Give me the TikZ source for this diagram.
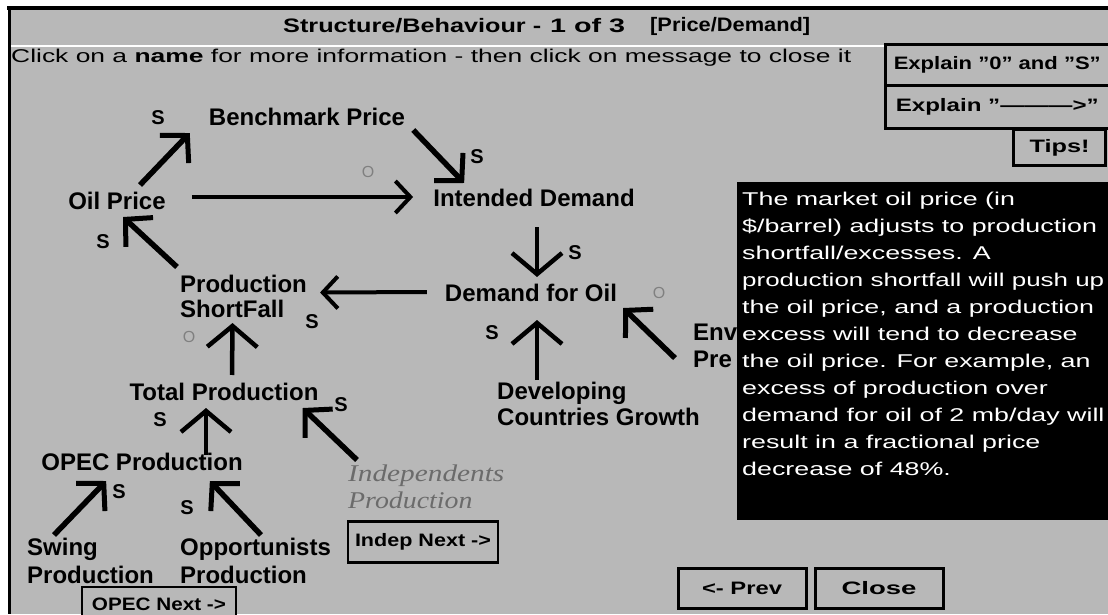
\documentclass[tikz,border=0pt]{standalone}
\usepackage{fontspec}
\usepackage{graphicx}
\setmainfont{Liberation Sans}
\newfontfamily\serifit{Liberation Serif}
\usetikzlibrary{arrows.meta,calc}
\definecolor{bg}{gray}{0.72}
\definecolor{faint}{gray}{0.50}
\definecolor{disabled}{gray}{0.42}
\newcommand{\fitw}[2]{\resizebox{#1}{\height}{#2}}
\begin{document}
\begin{tikzpicture}[x=1pt,y=-1pt,
  lbl/.style={font=\bfseries\fontsize{24}{25}\selectfont, inner sep=0pt, align=left},
  slbl/.style={font=\bfseries\fontsize{20}{22}\selectfont, inner sep=0pt},
  olbl/.style={font=\fontsize{16}{18}\selectfont, text=faint, inner sep=0pt},
  dis/.style={font=\serifit\itshape\fontsize{24}{27}\selectfont, text=disabled, inner sep=0pt, align=left},
  diag/.style={line width=5.5pt, -{Straight Barb[length=19pt,width=40pt,line width=5pt]}},
  vert/.style={line width=4.5pt, -{Straight Barb[length=21pt,width=50pt,line width=4.5pt]}},
  horiz/.style={line width=4pt, -{Straight Barb[length=15pt,width=32pt,line width=4pt]}},
  btn/.style={draw=black, line width=2.5pt, fill=bg, inner sep=0pt, font=\bfseries\fontsize{18}{20}\selectfont},
  btntext/.style={inner sep=0pt, font=\bfseries\fontsize{18}{20}\selectfont},
  ttl/.style={font=\bfseries\fontsize{19.5}{21}\selectfont, inner sep=0pt, anchor=west},
  msg/.style={font=\fontsize{18.5}{27}\selectfont, text=white, inner sep=0pt, align=left},
]
\useasboundingbox (0,0) rectangle (1108,614);
\fill[white] (0,0) rectangle (1108,614);
\fill[bg] (9,6) rectangle (1108,614);
% window frame
\draw[line width=4pt] (7,8) -- (1108,8);
\draw[line width=3pt] (9,6) -- (9,614);
\draw[white, line width=1.5pt] (11,46) -- (884,46);

% title and instruction
\node[ttl] (title) at (283,26) {\fitw{258pt}{Structure/Behaviour -}};
\node[ttl] (title2) at (550,26) {\fitw{75pt}{1 of 3}};
\node[ttl] (title3) at (650,26) {\fitw{160pt}{[Price/Demand]}};
\node[font=\fontsize{18.5}{20}\selectfont, inner sep=0pt, anchor=west] (instr) at (11,58) {\fitw{840pt}{Click on a \textbf{name} for more information - then click on message to close it}};

% top-right buttons
\node[btn, anchor=north west, minimum width=224pt, minimum height=41pt] (expl1) at (884,43) {\fitw{207pt}{Explain "0" and "S"}};
\node[btn, anchor=north west, minimum width=224pt, minimum height=43pt] (expl2) at (884,84) {\fitw{203pt}{Explain "--------->"}};
\node[btn, line width=3pt, anchor=north west, minimum width=92pt, minimum height=36pt] (tips) at (1012,128) {\fitw{60pt}{Tips!}};

% diagram labels
\node[lbl] (bench) at (307,117) {Benchmark Price};
\node[lbl] (oil) at (117,201) {Oil Price};
\node[lbl] (intended) at (534,198) {Intended Demand};
\node[lbl, anchor=north west] (psf) at (180,275) {Production\\ShortFall};
\node[lbl] (demand) at (531,293) {Demand for Oil};
\node[lbl, anchor=north west] (dev) at (497,382) {Developing\\[1pt]Countries Growth};
\node[lbl, anchor=north west] (env) at (693,324) {Env\\[2pt]Pre};
\node[lbl] (total) at (224,392) {Total Production};
\node[lbl] (opec) at (142,462) {OPEC Production};
\node[dis, anchor=north west] (indep) at (348,465) {\scalebox{1.22}[1]{Independents}\\\scalebox{1.16}[1]{Production}};
\node[lbl, anchor=north west] (swing) at (27,538) {Swing\\[3pt]Production};
\node[lbl, anchor=north west] (opport) at (180,538) {Opportunists\\[3pt]Production};

% polarity marks
\node[slbl] (s1) at (158,118) {S};
\node[slbl] (s2) at (477,157) {S};
\node[slbl] (s3) at (103,242) {S};
\node[slbl] (s4) at (575,253) {S};
\node[slbl] (s5) at (312,322) {S};
\node[slbl] (s6) at (492,333) {S};
\node[slbl] (s7) at (160,420) {S};
\node[slbl] (s8) at (341,405) {S};
\node[slbl] (s9) at (119,492) {S};
\node[slbl] (s10) at (187,508) {S};
\node[olbl] (o1) at (368,172) {O};
\node[olbl] (o2) at (189,337) {O};
\node[olbl] (o3) at (659,293) {O};

% connectors
\draw[diag] ($(oil.north)+(23,-7)$) -- ($(bench.south west)+(-19,7)$);
\draw[diag] ($(bench.south east)+(8,4)$) -- ($(intended.north west)+(31,-6)$);
\draw[horiz] ($(oil.east)+(26,-4)$) -- ($(intended.west)+(-20,-1)$);
\draw[vert] ($(intended.south)+(3,20)$) -- ($(demand.north)+(6,-7)$);
\draw[horiz] ($(demand.west)+(-18,-1)$) -- ($(psf.east)+(13,-4)$);
\draw[diag] ($(psf.north west)+(-3,-8)$) -- ($(oil.south)+(6,7)$);
\draw[vert] ($(dev.north west)+(40,-2)$) -- ($(demand.south)+(6,18)$);
\draw[diag] ($(env.west)+(-18,12)$) -- ($(demand.east)+(6,15)$);
\draw[vert] ($(total.north)+(8,-8)$) -- ($(psf.south)+(-11,5)$);
\draw[vert] ($(opec.north)+(64,2)$) -- ($(total.south)+(-18,7)$);
\draw[diag] ($(indep.north west)+(9,-5)$) -- ($(total.south east)+(-16,7)$);
\draw[diag] ($(swing.north west)+(27,-3)$) -- ($(opec.south west)+(65,10)$);
\draw[diag] ($(opport.north west)+(81,-3)$) -- ($(opec.south east)+(-33,10)$);

% bottom buttons
\node[btn] (indepnext) at (423,542) [minimum width=150pt, minimum height=41pt] {\fitw{136pt}{Indep Next ->}};
\draw[line width=2.5pt, fill=bg] (82,587) rectangle (236,630);
\node[btntext] (opecnext) at (159,604) {\fitw{134pt}{OPEC Next ->}};
\node[btn, line width=3pt] (prev) at (742,588) [minimum width=128pt, minimum height=40pt] {\fitw{80pt}{<- Prev}};
\node[btn, line width=3pt] (close) at (879,588) [minimum width=128pt, minimum height=40pt] {\fitw{75pt}{Close}};

% message box
\fill[black] (737,182) rectangle (1108,520);
\node[msg, anchor=north west] (message) at (742,191.5) {%
\scalebox{1.45}[1]{The market oil price (in}\\
\scalebox{1.45}[1]{\$/barrel) adjusts to production}\\
\scalebox{1.45}[1]{shortfall/excesses. A}\\
\fitw{362pt}{production shortfall will push up}\\
\scalebox{1.45}[1]{the oil price, and a production}\\
\scalebox{1.45}[1]{excess will tend to decrease}\\
\scalebox{1.45}[1]{the oil price. For example, an}\\
\scalebox{1.45}[1]{excess of production over}\\
\scalebox{1.45}[1]{demand for oil of 2 mb/day will}\\
\scalebox{1.45}[1]{result in a fractional price}\\
\scalebox{1.45}[1]{decrease of 48\%.}};
\end{tikzpicture}
\end{document}
